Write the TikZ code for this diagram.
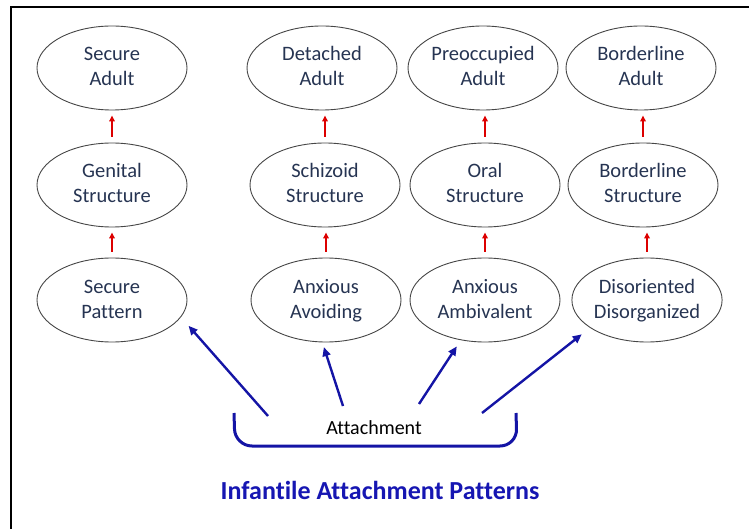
\documentclass[tikz,border=0pt]{standalone}
\usepackage{fontspec}
\setmainfont{Carlito}[Ligatures=NoCommon]
\usetikzlibrary{shapes.geometric,arrows.meta}
\definecolor{nodetext}{RGB}{38,52,82}
\definecolor{ellline}{RGB}{70,70,70}
\definecolor{arrred}{RGB}{220,0,0}
\definecolor{arrblue}{RGB}{20,20,165}
\definecolor{titleblue}{RGB}{22,22,178}
\newcommand{\ovalstrut}{\rule[-5pt]{0pt}{21pt}}
\newcommand{\twolines}[2]{\ovalstrut #1\\\ovalstrut #2}
\tikzset{
  oval/.style={ellipse, draw=ellline, line width=0.9pt, minimum width=150pt, minimum height=84pt,
    inner sep=0pt, align=center, text=nodetext, font=\fontsize{20.5}{25}\selectfont},
  redarr/.style={draw=arrred, line width=2pt, -{Triangle[length=6pt,width=5.5pt]}},
  bluearr/.style={draw=arrblue, line width=2.4pt, -{Triangle[length=9pt,width=8pt]}},
  frameline/.style={draw=black, line width=2pt},
}
\begin{document}
\begin{tikzpicture}[x=1pt,y=-1pt]
\useasboundingbox (0,0) rectangle (749,529);
\draw[frameline] (11,529) -- (11,7) -- (749,7);
% row 1
\node[oval] (sa) at (112,68) {\twolines{Secure}{Adult}};
\node[oval] (da) at (322,68) {\twolines{Detached}{Adult}};
\node[oval] (pa) at (483,68) {\twolines{Preoccupied}{Adult}};
\node[oval] (ba) at (641,68) {\twolines{Borderline}{Adult}};
% row 2
\node[oval] (gs) at (112,185) {\twolines{Genital}{Structure}};
\node[oval] (ss) at (325,185) {\twolines{Schizoid}{Structure}};
\node[oval] (os) at (485,185) {\twolines{Oral}{Structure}};
\node[oval] (bs) at (643,185) {\twolines{Borderline}{Structure}};
% row 3
\node[oval] (sp) at (112,300) {\twolines{Secure}{Pattern}};
\node[oval] (av) at (326,300) {\twolines{Anxious}{Avoiding}};
\node[oval] (am) at (485,300) {\twolines{Anxious}{Ambivalent}};
\node[oval] (dd) at (647,300) {\twolines{Disoriented}{Disorganized}};
% red arrows
\foreach \lo/\hi in {gs/sa, ss/da, os/pa, bs/ba, sp/gs, av/ss, am/os, dd/bs}{
  \draw[redarr, shorten <=6pt, shorten >=5pt] (\lo.north) -- (\lo.north |- \hi.south);
}
% attachment bracket
\draw[draw=arrblue, line width=3pt, rounded corners=17pt] (234,413) -- (235,446) -- (517,446) -- (516,413);
\node[font=\fontsize{20}{24}\selectfont, text=black] (att) at (374,428) {Attachment};
\coordinate (b1) at (268,416);
\coordinate (b2) at (343,406);
\coordinate (b3) at (419,404);
\coordinate (b4) at (482,413);
\draw[bluearr, shorten >=11.5pt] (b1) -- (sp.-14);
\draw[bluearr, shorten >=5pt] (b2) -- (av.-95);
\draw[bluearr, shorten >=7.4pt] (b3) -- (am.-121);
\draw[bluearr, shorten >=10.5pt] (b4) -- (dd.-154);
\node[font=\bfseries\fontsize{26}{30}\selectfont, text=titleblue] (title) at (380,490) {Infantile Attachment Patterns};
\end{tikzpicture}
\end{document}
